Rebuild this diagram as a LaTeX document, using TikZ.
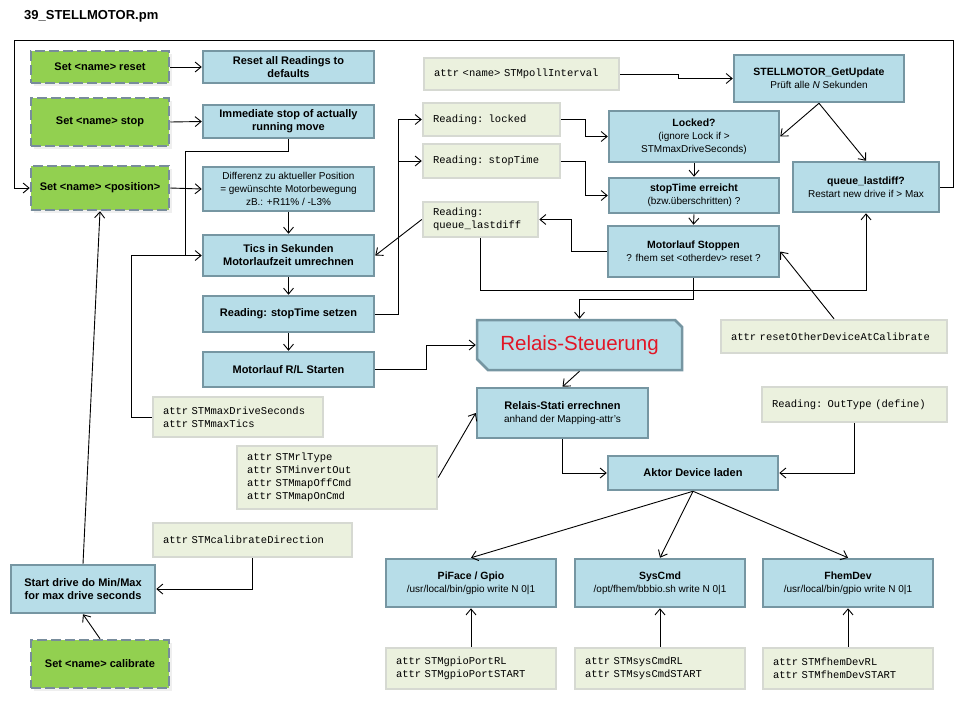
\documentclass[tikz,border=0pt]{standalone}
\usepackage{fontspec}
\setmainfont{Liberation Sans}
\setmonofont{Liberation Mono}[WordSpace={1,0,0}]
\usetikzlibrary{arrows.meta,shadows}
\definecolor{bfill}{RGB}{183,221,232}
\definecolor{bline}{RGB}{118,150,162}
\definecolor{gfill}{RGB}{146,208,80}
\definecolor{gline}{RGB}{120,140,155}
\definecolor{afill}{RGB}{235,241,222}
\definecolor{aline}{RGB}{214,217,210}
\definecolor{rtext}{RGB}{226,22,38}
\newcommand{\fB}{\fontsize{11}{13}\selectfont\bfseries}
\newcommand{\fBs}{\fontsize{10.5}{13}\selectfont\bfseries}
\newcommand{\fR}{\fontsize{10}{13}\selectfont\mdseries}
\newcommand{\fM}{\fontsize{10.5}{13}\selectfont\ttfamily}
\tikzset{
 bbox/.style={draw=bline, fill=bfill, line width=2.5pt, align=center, inner sep=2pt, font=\fB},
 gbox/.style={draw=gline, fill=gfill, line width=2.5pt, dash pattern=on 10pt off 4pt, align=center, font=\fB,
   drop shadow={shadow xshift=3pt, shadow yshift=-3pt, opacity=0.12}},
 abox/.style={draw=aline, fill=afill, line width=2.5pt, align=left, inner xsep=10pt, inner ysep=0pt, font=\fM},
 arr/.style={line width=0.9pt, -{Straight Barb[length=6pt,width=10pt,line width=0.9pt]}},
 ln/.style={line width=0.9pt},
}
\begin{document}
\begin{tikzpicture}[x=1pt,y=-1pt]
\useasboundingbox (0,0) rectangle (960,720);
\fill[white] (0,0) rectangle (960,720);

\node[font=\fontsize{13}{15}\selectfont\bfseries, anchor=west, inner sep=0pt] (title) at (24,16) {39\_STELLMOTOR.pm};

% green command boxes
\node[gbox, minimum width=138pt, minimum height=32pt] (gReset) at (100,67) {Set <name> reset};
\node[gbox, minimum width=138pt, minimum height=48pt] (gStop) at (100,122) {Set <name> stop};
\node[gbox, minimum width=138pt, minimum height=44pt] (gPos) at (100,188) {Set <name> <position>};
\node[gbox, minimum width=138pt, minimum height=48pt] (gCal) at (100,664) {Set <name> calibrate};

% left blue column
\node[bbox, minimum width=171pt, minimum height=32pt] (bReset) at (288.5,67) {Reset all Readings to\\defaults};
\node[bbox, minimum width=171pt, minimum height=33pt] (bStop) at (288.5,121.5) {Immediate stop of actually\\running move};
\node[bbox, minimum width=171pt, minimum height=44pt, font=\fR] (bDiff) at (288.5,189) {Differenz zu aktueller Position\\= gewünschte Motorbewegung\\zB.: +R11\% / -L3\%};
\node[bbox, minimum width=171pt, minimum height=41pt] (bTics) at (288.5,255.5) {Tics in Sekunden\\Motorlaufzeit umrechnen};
\node[bbox, minimum width=171pt, minimum height=36pt] (bSetzen) at (288.5,314) {Reading: stopTime setzen};
\node[bbox, minimum width=171pt, minimum height=35pt] (bStart) at (288.5,369.5) {Motorlauf R/L Starten};
\node[bbox, minimum width=144pt, minimum height=48pt] (sd) at (83,589) {Start drive do Min/Max\\for max drive seconds};

% attribute / reading boxes
\node[abox, text width=150pt, minimum height=40pt] (aMax) at (238,417) {attr STMmaxDriveSeconds\\attr STMmaxTics};
\node[abox, text width=180pt, minimum height=63pt] (aRl) at (337,477.5) {attr STMrlType\\attr STMinvertOut\\attr STMmapOffCmd\\attr STMmapOnCmd};
\node[abox, text width=179pt, minimum height=34pt] (aCal) at (252.5,540) {attr STMcalibrateDirection};
\node[abox, text width=175pt, minimum height=32pt] (aPoll) at (521.5,74) {attr <name> STMpollInterval};
\node[abox, text width=117pt, minimum height=33pt] (rLocked) at (491.5,119.5) {Reading: locked};
\node[abox, text width=117pt, minimum height=34pt] (rStop) at (491.5,161) {Reading: stopTime};
\node[abox, text width=95pt, minimum height=35pt] (rQueue) at (480.5,219.5) {Reading:\\queue\_lastdiff};
\node[abox, text width=206pt, minimum height=33pt] (aReset) at (834,336.5) {attr resetOtherDeviceAtCalibrate};
\node[abox, text width=165pt, minimum height=35pt] (rOut) at (854.5,404.5) {Reading: OutType (define)};
\node[abox, text width=150pt, minimum height=41pt] (aPi) at (471,668.5) {attr STMgpioPortRL\\attr STMgpioPortSTART};
\node[abox, text width=150pt, minimum height=41pt] (aSys) at (660,668.5) {attr STMsysCmdRL\\attr STMsysCmdSTART};
\node[abox, text width=150pt, minimum height=41pt] (aFhem) at (848,668.5) {attr STMfhemDevRL\\attr STMfhemDevSTART};

% right blue boxes
\node[bbox, font=\fBs, minimum width=170pt, minimum height=47pt] (bGet) at (819,78.5) {STELLMOTOR\_GetUpdate\\{\fR Prüft alle \textit{N} Sekunden}};
\node[bbox, font=\fBs, minimum width=170pt, minimum height=51pt] (bLocked) at (694,136.5) {Locked?\\{\fR (ignore Lock if >}\\{\fR STMmaxDriveSeconds)}};
\node[bbox, font=\fBs, minimum width=170pt, minimum height=35pt] (bStopT) at (694,195.5) {stopTime erreicht\\{\fR (bzw.überschritten) ?}};
\node[bbox, font=\fBs, minimum width=171pt, minimum height=51pt] (bStoppen) at (693.5,251.5) {Motorlauf Stoppen\\{\fR ? fhem set <otherdev> reset ?}};
\node[bbox, font=\fBs, minimum width=146pt, minimum height=50pt] (bQueue) at (866,187) {queue\_lastdiff?\\{\fR Restart new drive if > Max}};
\node[bbox, minimum width=171pt, minimum height=50pt] (bStati) at (562.5,413) {Relais-Stati errechnen\\{\fR anhand der Mapping-attr's}};
\node[bbox, minimum width=170pt, minimum height=34pt] (bAktor) at (693,473) {Aktor Device laden};
\node[bbox, font=\fBs, minimum width=170pt, minimum height=48pt] (bPi) at (471,583) {PiFace / Gpio\\{\fR /usr/local/bin/gpio write N 0|1}};
\node[bbox, font=\fBs, minimum width=170pt, minimum height=48pt] (bSys) at (660,583) {SysCmd\\{\fR /opt/fhem/bbbio.sh write N 0|1}};
\node[bbox, font=\fBs, minimum width=170pt, minimum height=48pt] (bFhem) at (848,583) {FhemDev\\{\fR /usr/local/bin/gpio write N 0|1}};

% Relais-Steuerung (chamfered)
\filldraw[draw=bline, fill=bfill, line width=2.5pt] (477,320) -- (675,320) -- (682,327) -- (682,370) -- (488,370) -- (477,359) -- cycle;
\node[minimum width=205pt, minimum height=50pt, inner sep=0pt, outer sep=1.25pt, font=\fontsize{20.5}{24}\selectfont, text=rtext] (Relais) at (579.5,345) {Relais-Steuerung};

% connectors
\draw[arr] (gReset.east) -- (bReset.west);
\draw[arr] (gStop.east) -- (bStop.west);
\draw[arr] (gPos.east) -- (bDiff.west);
\draw[arr] (bDiff.south) -- (bTics.north);
\draw[arr] (bTics.south) -- (bSetzen.north);
\draw[arr] (bSetzen.south) -- (bStart.north);
\coordinate (jT) at (185,255.5);
\coordinate (jM) at (131,255.5);
\draw[ln] (bStop.south) -- ++(0,12) -| (jT);
\draw[arr] (aMax.west) -| (jM) -- (bTics.west);
\coordinate (jS) at (398,314);
\draw[arr] (bSetzen.east) -- (jS) |- (rLocked.west);
\draw[arr] (jS) |- (rStop.west);
\draw[arr] (rLocked.east) -- ++(24,0) |- (bLocked.west);
\draw[arr] (rStop.east) -- ++(24,0) |- (bStopT.west);
\draw[arr] (aPoll.east) -- ++(58,0) |- (bGet.west);
\draw[arr] (bGet.south) -- (bLocked.east);
\draw[arr] (bGet.south) -- (bQueue.north);
\draw[arr] (bLocked.south) -- (bStopT.north);
\draw[arr] (bStopT.south) -- (bStoppen.north);
\draw[arr] (bStoppen.west) -- ++(-35,0) |- (rQueue.east);
\draw[arr] (rQueue.west) -- (bTics.east);
\draw[arr] (rQueue.south) -- ++(0,52) -| (bQueue.south);
\coordinate (tr) at (953,40);
\coordinate (tl) at (14,40);
\draw[arr] (bQueue.east) -| (tr) -- (tl) |- (gPos.west);
\draw[arr] (bStoppen.south) -- ++(0,21) -| (Relais.north);
\draw[arr] (aReset.north) -- (bStoppen.east);
\draw[arr] (bStart.east) -- ++(51,0) |- (Relais.west);
\draw[arr] (Relais.south) -- (bStati.north);
\draw[arr] (aRl.east) -- (bStati.west);
\draw[arr] (bStati.south) |- (bAktor.west);
\draw[arr] (rOut.south) |- (bAktor.east);
\draw[arr] (bAktor.south) -- (bPi.north);
\draw[arr] (bAktor.south) -- (bSys.north);
\draw[arr] (bAktor.south) -- (bFhem.north);
\draw[arr] (aPi.north) -- (bPi.south);
\draw[arr] (aSys.north) -- (bSys.south);
\draw[arr] (aFhem.north) -- (bFhem.south);
\draw[arr] (aCal.south) |- (sd.east);
\draw[arr] (sd.north) -- (gPos.south);
\draw[arr] (gCal.north) -- (sd.south);
\end{tikzpicture}
\end{document}
